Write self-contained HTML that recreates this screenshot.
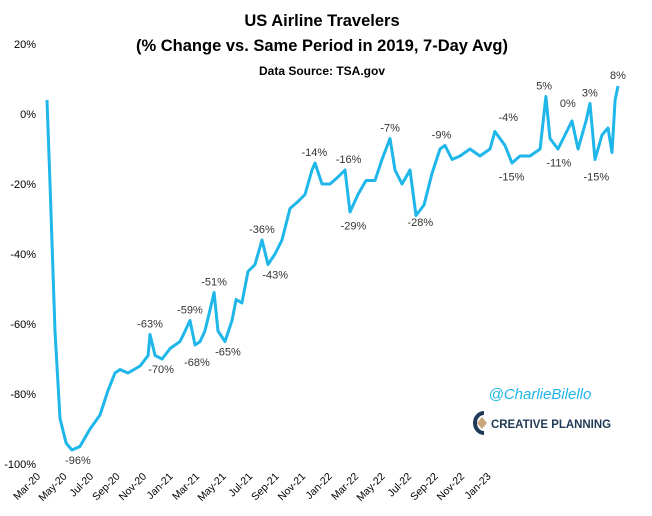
<!DOCTYPE html>
<html><head><meta charset="utf-8"><style>
body{margin:0;background:#fff;}
svg{display:block;font-family:"Liberation Sans",Calibri,sans-serif;}
</style></head><body>
<svg id="c" width="652" height="516">
<text x="322" y="26" text-anchor="middle" font-size="16.5" font-weight="bold">US Airline Travelers</text>
<text x="322" y="51" text-anchor="middle" font-size="16.5" font-weight="bold" textLength="372">(% Change vs. Same Period in 2019, 7-Day Avg)</text>
<text x="322" y="75" text-anchor="middle" font-size="12" font-weight="bold">Data Source: TSA.gov</text>
<g id="yax"></g>
<g id="xax"></g>
<path id="line" fill="none" stroke="#1fb6ea" stroke-width="3" stroke-linejoin="round"></path>
<g id="ann"></g>
<text x="540" y="399" text-anchor="middle" font-size="15" font-style="italic" fill="#1fb6ea">@CharlieBilello</text>
<g>
<path d="M484 413 a9 10 0 1 0 0 20" fill="none" stroke="#1e3a56" stroke-width="4"/>
<path d="M482 417 l5 6 -5 6 -5 -6z" fill="#c9a77a"/>
<text x="491" y="428" font-size="12" font-weight="bold" fill="#1e3a56" textLength="120" lengthAdjust="spacingAndGlyphs">CREATIVE PLANNING</text>
</g>
</svg>
<script>
const yTicks=[20,0,-20,-40,-60,-80,-100];
const xLabels=["Mar-20","May-20","Jul-20","Sep-20","Nov-20","Jan-21","Mar-21","May-21","Jul-21","Sep-21","Nov-21","Jan-22","Mar-22","May-22","Jul-22","Sep-22","Nov-22","Jan-23"];
const months=[0,0.18,0.49,0.8,1.17,1.53,2.02,2.64,3.25,3.74,4.17,4.48,4.97,5.71,6.2,6.32,6.63,7.06,7.55,8.16,8.47,8.77,9.08,9.39,9.69,10.0,10.25,10.49,10.92,11.35,11.6,11.96,12.33,12.76,13.19,13.56,13.99,14.42,14.91,15.4,15.83,16.26,16.44,16.87,17.36,17.85,18.28,18.59,19.08,19.57,20.12,20.55,21.04,21.35,21.78,22.27,22.64,23.13,23.62,24.11,24.42,24.85,25.34,25.95,26.56,27.18,27.48,28.1,28.53,29.02,29.63,30.25,30.61,30.86,31.35,31.78,32.21,32.58,33.07,33.31,33.62,34.05,34.42,34.66,34.85,35.03];
const values=[4,-19,-62,-87,-94,-96,-95,-90,-86,-79,-74,-73,-74,-72,-69,-63,-69,-70,-67,-65,-62,-59,-66,-65,-62,-56,-51,-62,-65,-59,-53,-54,-45,-43,-36,-43,-40,-36,-27,-25,-23,-16,-14,-20,-20,-18,-16,-28,-23,-19,-19,-13,-7,-16,-20,-16,-29,-26,-17,-10,-9,-13,-12,-10,-12,-10,-5,-9,-14,-12,-12,-10,5,-7,-10,-6,-2,-10,-2,3,-13,-6,-4,-11,4,8];
const annM=[1.9,6.32,7.0,8.77,9.2,10.25,11.1,13.19,14.0,16.4,18.5,18.8,21.05,22.9,24.2,28.3,28.5,30.5,31.4,31.95,33.3,33.7,35.03];
const annV=[-96,-63,-70,-59,-68,-51,-65,-36,-43,-14,-16,-29,-7,-28,-9,-4,-15,5,-11,0,3,-15,8];
const annBelow=[1,0,1,0,1,0,1,0,1,0,0,1,0,1,0,0,1,0,1,0,0,1,0];
const X=m=>47+m*16.3, Y=v=>114-v*3.5;
const NS="http://www.w3.org/2000/svg";
function mk(tag,parent,attrs,txt){const e=document.createElementNS(NS,tag);for(const k in attrs)e.setAttribute(k,attrs[k]);if(txt!==undefined)e.textContent=txt;parent.appendChild(e);return e;}
const yax=document.getElementById('yax');
yTicks.forEach(t=>{const e=mk('text',yax,{x:36,y:Y(t)+4,'text-anchor':'end','font-size':11},t+'%');

});
const xax=document.getElementById('xax');
xLabels.forEach((l,i)=>{const x=41+i*26.5,y=477;const e=mk('text',xax,{x:x,y:y,'text-anchor':'end','font-size':10.5,transform:`rotate(-45 ${x} ${y})`},l);

});
document.getElementById('line').setAttribute('d',months.map((m,i)=>(i?'L':'M')+X(m).toFixed(1)+' '+Y(values[i]).toFixed(1)).join(''));
const ann=document.getElementById('ann');
annM.forEach((m,i)=>{const y=Y(annV[i])+(annBelow[i]?14:-7);const e=mk('text',ann,{x:X(m),y:y,'text-anchor':'middle','font-size':11,fill:'#333'},annV[i]+'%');

});
</script>
</body></html>
